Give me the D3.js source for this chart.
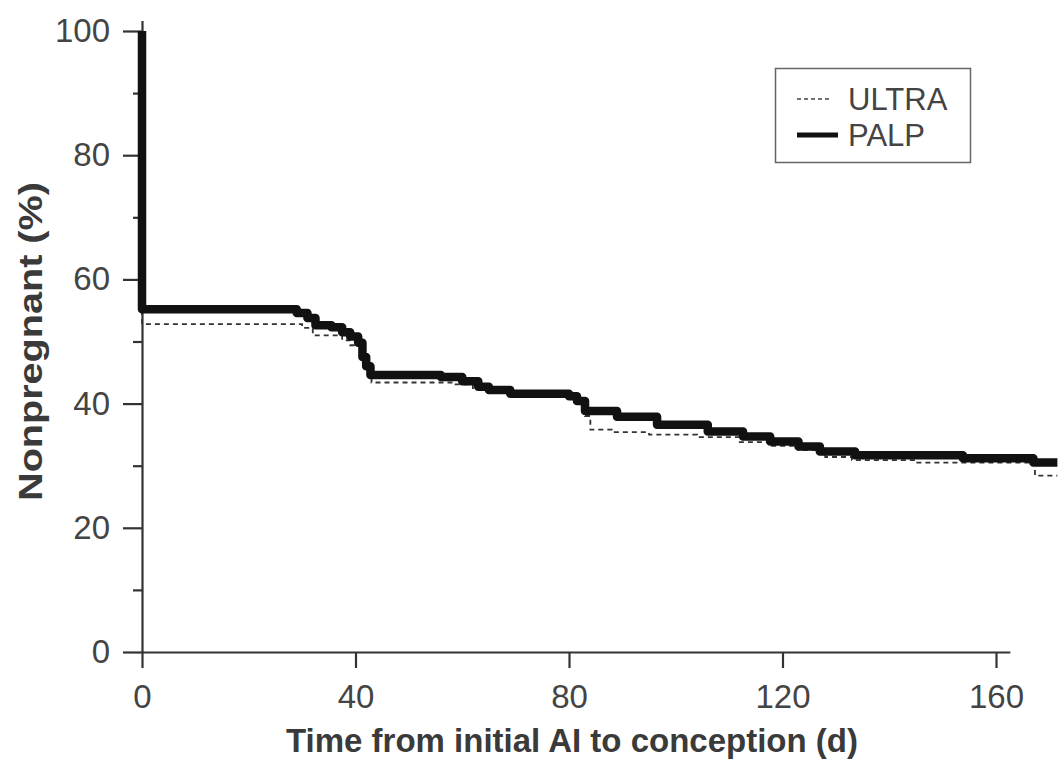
<!DOCTYPE html>
<html>
<head>
<meta charset="utf-8">
<script src="https://cdn.jsdelivr.net/npm/d3@7"></script>
<style>
  html, body { margin: 0; padding: 0; background: #fff; }
  svg { display: block; font-family: "Liberation Sans", Arial, Helvetica, sans-serif; }
</style>
</head>
<body>
<svg id="chart" width="1059" height="760"></svg>
<script>
// ---- data (Kaplan-Meier step curves) ----
const palpTimes  = [0, 0, 29, 31, 32.5, 35.5, 37.5, 39, 40.5, 41.3, 42, 42.8, 56, 60, 63, 65, 69, 80, 81.5, 83, 89, 96.5, 106, 112.6, 117.7, 123, 127, 133.6, 153.8, 167, 171.5];
const palpValues = [100, 55.2, 54.6, 53.8, 52.6, 52.3, 51.5, 50.8, 49.8, 47.5, 46, 44.6, 44.3, 43.6, 42.7, 42.2, 41.6, 41.2, 40.4, 38.8, 37.9, 36.6, 35.5, 34.7, 33.9, 33.1, 32.3, 31.7, 31.2, 30.5, 30.5];

const ultraTimes  = [0, 0, 30, 32, 37.5, 39, 41, 42, 43, 58, 62, 66, 70, 80, 83, 84, 88, 95, 104, 112, 118, 123, 128, 133, 145, 167.3, 171.5];
const ultraValues = [100, 52.8, 52.2, 51.0, 50.2, 49.4, 47, 45, 43.4, 43.1, 42.5, 41.8, 41.3, 40.8, 38, 35.8, 35.4, 35.0, 34.6, 33.8, 33.2, 32.5, 31.4, 30.9, 30.5, 28.4, 28.4];

const xTickValues = [0, 40, 80, 120, 160];
const yMajorTicks = [0, 20, 40, 60, 80, 100];
const yMinorTicks = [10, 30, 50, 70, 90];
const seriesNames = ["ULTRA", "PALP"];

const xTitle = "Time from initial AI to conception (d)";
const yTitle = "Nonpregnant (%)";

// ---- layout ----
const svg = d3.select("#chart");
const x = d3.scaleLinear().domain([0, 160]).range([142, 996]);
const y = d3.scaleLinear().domain([0, 100]).range([652, 31]);

const axisColor = "#333";
const textColor = "#444";
const fontFam = "Liberation Sans, Arial, sans-serif";

// axis scales extending a bit beyond the last tick
const xAxisScale = x.copy().domain([0, 162.6]).range([x(0), x(162.6)]);
const yAxisScale = y.copy().domain([0, 101.7]).range([y(0), y(101.7)]);

// x axis
const gx = svg.append("g").attr("transform", `translate(0,${y(0)})`)
  .call(d3.axisBottom(xAxisScale).tickValues(xTickValues).tickSize(16).tickSizeOuter(0).tickPadding(17).tickFormat(d3.format("d")));
gx.select(".domain").attr("stroke", axisColor).attr("stroke-width", 2.2);
gx.selectAll(".tick line").attr("stroke", axisColor).attr("stroke-width", 2.2);
gx.selectAll(".tick text").attr("fill", textColor).style("font-size", "33px").style("font-family", fontFam);

// y axis (major)
const gy = svg.append("g").attr("transform", `translate(${x(0)},0)`)
  .call(d3.axisLeft(yAxisScale).tickValues(yMajorTicks).tickSize(19).tickSizeOuter(0).tickPadding(13).tickFormat(d3.format("d")));
gy.select(".domain").attr("stroke", axisColor).attr("stroke-width", 2.2);
gy.selectAll(".tick line").attr("stroke", axisColor).attr("stroke-width", 2.2);
gy.selectAll(".tick text").attr("fill", textColor).style("font-size", "33px").style("font-family", fontFam);

// y axis (minor)
const gyMinor = svg.append("g").attr("transform", `translate(${x(0)},0)`)
  .call(d3.axisLeft(yAxisScale).tickValues(yMinorTicks).tickSize(9).tickSizeOuter(0).tickFormat(""));
gyMinor.select(".domain").remove();
gyMinor.selectAll(".tick line").attr("stroke", axisColor).attr("stroke-width", 2.2);

// titles
svg.append("text")
  .attr("x", 572).attr("y", 752)
  .attr("text-anchor", "middle")
  .attr("fill", "#3a3a3a")
  .style("font-size", "33px").style("font-weight", "bold")
  .text(xTitle);

svg.append("text")
  .attr("transform", `translate(42,${y(50)}) rotate(-90) scale(1.2,1)`)
  .attr("text-anchor", "middle")
  .attr("fill", "#3a3a3a")
  .style("font-size", "33px").style("font-weight", "bold")
  .text(yTitle);

// lines
const line = d3.line().x(d => x(d[0])).y(d => y(d[1])).curve(d3.curveStepAfter);
const ultraData = ultraTimes.map((t, i) => [t, ultraValues[i]]);
const palpData = palpTimes.map((t, i) => [t, palpValues[i]]);

svg.append("path").datum(ultraData)
  .attr("d", line).attr("fill", "none")
  .attr("stroke", "#333").attr("stroke-width", 1.8)
  .attr("stroke-dasharray", "5,4");

svg.append("path").datum(palpData)
  .attr("d", line).attr("fill", "none")
  .attr("stroke", "#111").attr("stroke-width", 8.5)
  .attr("stroke-linejoin", "round");

// legend
const lg = svg.append("g");
lg.append("rect").attr("x", 775.5).attr("y", 68.5).attr("width", 195).attr("height", 94)
  .attr("fill", "#fff").attr("stroke", "#666").attr("stroke-width", 1.5);
const legendY = [99, 135];
const legendStyles = [
  {stroke: "#444", width: 1.6, dash: "4,3"},
  {stroke: "#111", width: 5, dash: null}
];
seriesNames.forEach((name, i) => {
  const s = legendStyles[i];
  const l = lg.append("line").attr("x1", 797).attr("x2", i === 0 ? 832 : 838)
    .attr("y1", legendY[i]).attr("y2", legendY[i])
    .attr("stroke", s.stroke).attr("stroke-width", s.width);
  if (s.dash) l.attr("stroke-dasharray", s.dash);
  lg.append("text").attr("x", 848).attr("y", legendY[i] + 11)
    .attr("fill", textColor).style("font-size", "31px")
    .text(name);
});
</script>
</body>
</html>
